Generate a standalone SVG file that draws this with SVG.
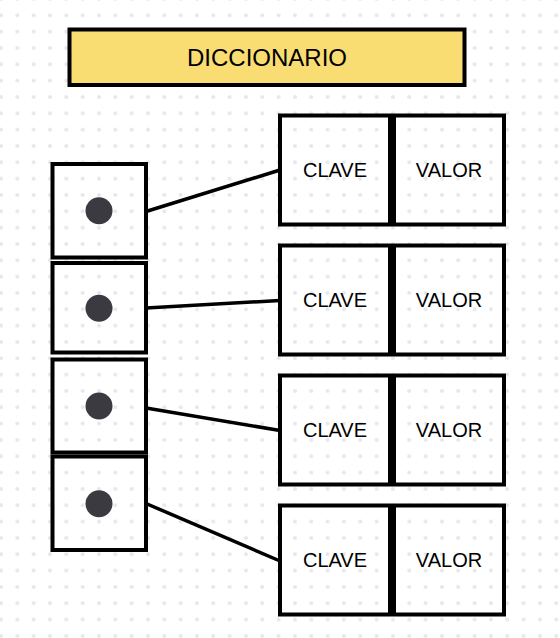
<svg xmlns="http://www.w3.org/2000/svg" width="560" height="638" viewBox="0 0 560 638">
<defs>
<pattern id="dots" x="1" y="-1" width="16.33" height="16.33" patternUnits="userSpaceOnUse">
<circle cx="0" cy="0" r="2" fill="#e6e6ec"/>
<circle cx="16.33" cy="0" r="2" fill="#e6e6ec"/>
<circle cx="0" cy="16.33" r="2" fill="#e6e6ec"/>
<circle cx="16.33" cy="16.33" r="2" fill="#e6e6ec"/>
</pattern>
</defs>
<style>
.cell{fill:none;stroke:#000;stroke-width:4}
.dot{fill:#3a3a40}
.box{fill:none;stroke:#000;stroke-width:4}
.lbl{font-family:"Liberation Sans",Arial,sans-serif;font-size:20px;fill:#000;text-anchor:middle;dominant-baseline:central}
.conn{stroke:#000;stroke-width:3.5;fill:none}
</style>
<rect width="560" height="638" fill="#fff"/>
<rect width="560" height="638" fill="url(#dots)"/>
<g id="title">
<rect x="69.5" y="29.5" width="395" height="55.5" fill="#f9dd72" stroke="#000" stroke-width="4"/>
<text x="267" y="57" class="lbl" style="font-size:24px">DICCIONARIO</text>
</g>
<g id="connectors">
<line class="conn" x1="146" y1="211.5" x2="280" y2="170"/>
<line class="conn" x1="146" y1="308" x2="280" y2="300.5"/>
<line class="conn" x1="146" y1="408" x2="280" y2="430.5"/>
<line class="conn" x1="146" y1="503.5" x2="280" y2="561"/>
</g>
<g id="slot1"><rect class="cell" x="52.5" y="164" width="93.5" height="93.5"/><circle class="dot" cx="99" cy="210.7" r="13.5"/></g>
<g id="slot2"><rect class="cell" x="52.5" y="263" width="93.5" height="89.5"/><circle class="dot" cx="99" cy="308.3" r="13.5"/></g>
<g id="slot3"><rect class="cell" x="52.5" y="359.5" width="93.5" height="93"/><circle class="dot" cx="99" cy="406" r="13.5"/></g>
<g id="slot4"><rect class="cell" x="52.5" y="456.5" width="93.5" height="93.5"/><circle class="dot" cx="99" cy="503.7" r="13.5"/></g>
<g id="entry1"><rect class="box" x="280" y="115.5" width="110" height="109"/><rect class="box" x="394" y="115.5" width="110" height="109"/><text class="lbl" x="335" y="170">CLAVE</text><text class="lbl" x="449" y="170">VALOR</text></g>
<g id="entry2"><rect class="box" x="280" y="245.5" width="110" height="109"/><rect class="box" x="394" y="245.5" width="110" height="109"/><text class="lbl" x="335" y="300">CLAVE</text><text class="lbl" x="449" y="300">VALOR</text></g>
<g id="entry3"><rect class="box" x="280" y="375.5" width="110" height="109"/><rect class="box" x="394" y="375.5" width="110" height="109"/><text class="lbl" x="335" y="430">CLAVE</text><text class="lbl" x="449" y="430">VALOR</text></g>
<g id="entry4"><rect class="box" x="280" y="505.5" width="110" height="109"/><rect class="box" x="394" y="505.5" width="110" height="109"/><text class="lbl" x="335" y="560">CLAVE</text><text class="lbl" x="449" y="560">VALOR</text></g>
</svg>
